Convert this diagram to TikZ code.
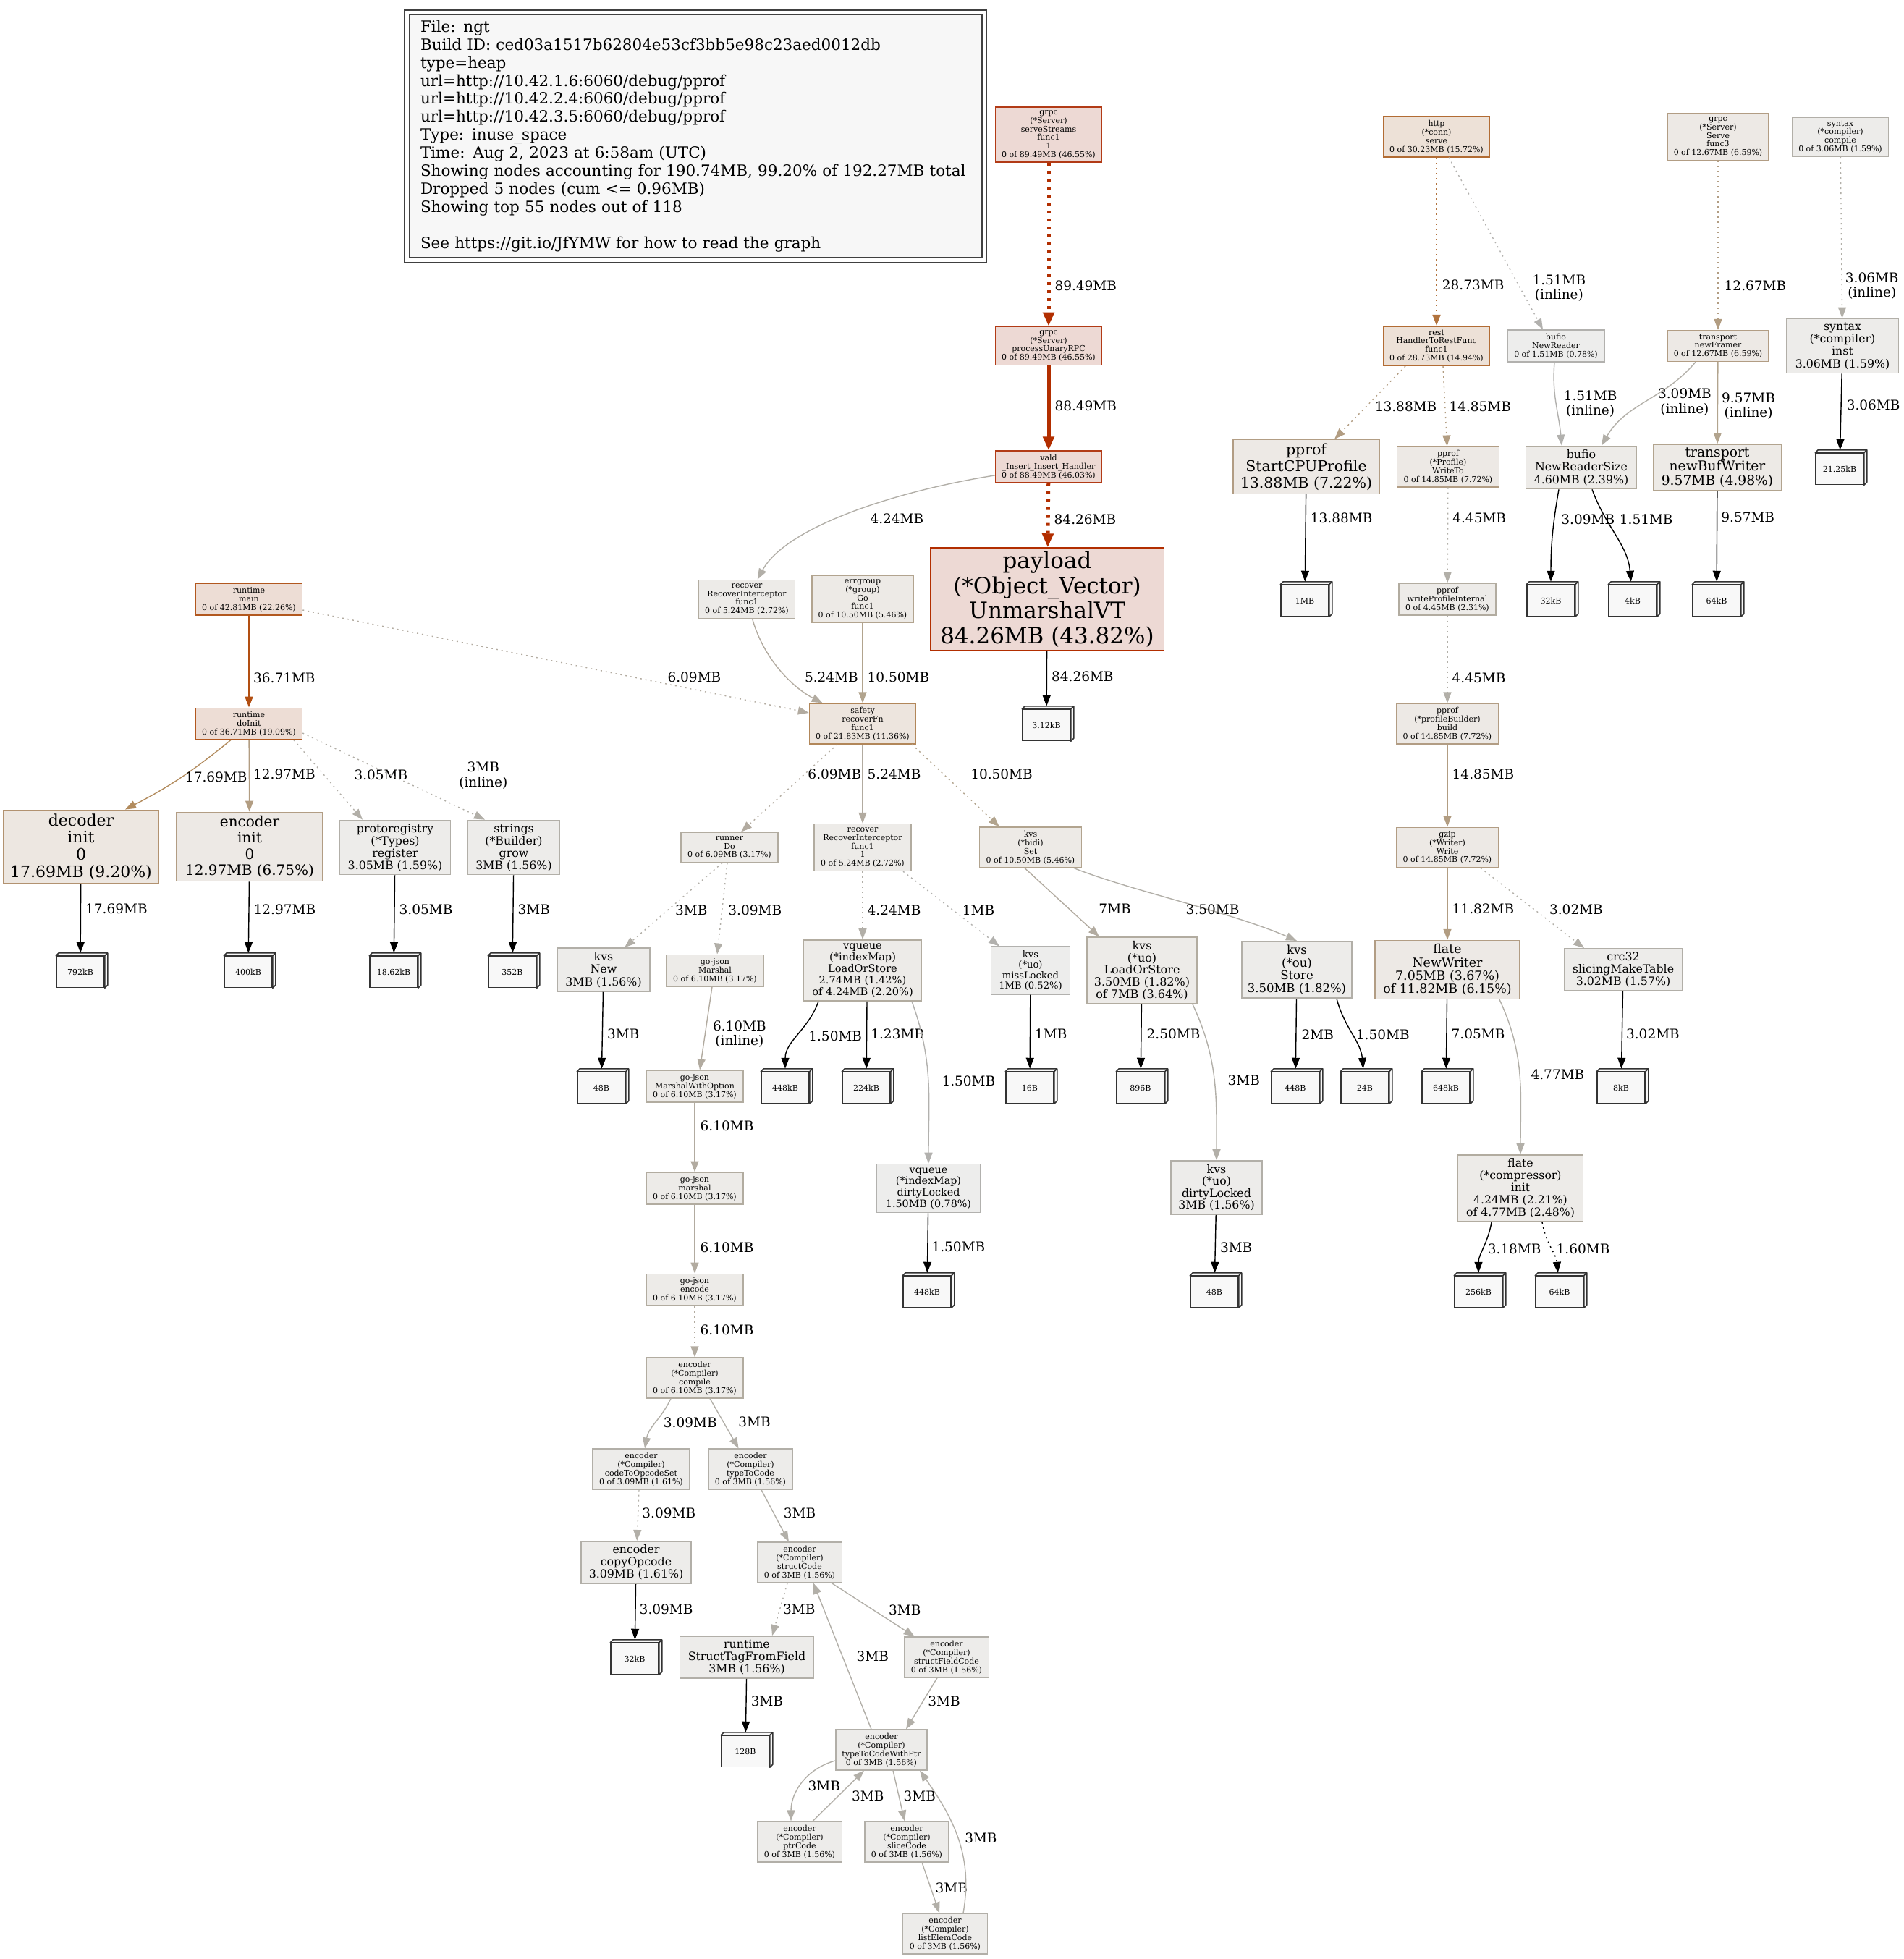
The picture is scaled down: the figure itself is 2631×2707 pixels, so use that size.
\documentclass[tikz,border=0pt]{standalone}
\usepackage{fontspec}
\setmainfont{DejaVu Serif}
\usetikzlibrary{arrows.meta}
\definecolor{bg46}{HTML}{EDD9D4}
\definecolor{fg46}{HTML}{B23B16}
\definecolor{fgpl}{HTML}{B22E00}
\definecolor{bg22}{HTML}{EDDDD5}
\definecolor{fg22}{HTML}{B2581F}
\definecolor{bg15}{HTML}{EDE1D7}
\definecolor{fg15}{HTML}{B26C34}
\definecolor{bg11}{HTML}{EDE5DE}
\definecolor{fg11}{HTML}{B2875A}
\definecolor{bg9}{HTML}{EDE7E1}
\definecolor{fg9}{HTML}{B29270}
\definecolor{bg7}{HTML}{EDE9E5}
\definecolor{fg7}{HTML}{B29D84}
\definecolor{bg5}{HTML}{EDEAE6}
\definecolor{fg5}{HTML}{B2A48F}
\definecolor{bg3}{HTML}{EDEBE8}
\definecolor{fg3}{HTML}{B2ACA0}
\definecolor{bg2}{HTML}{EDECEA}
\definecolor{fg2}{HTML}{B2AFA8}
\definecolor{bg1}{HTML}{EDEDEC}
\definecolor{fg1}{HTML}{B2B1AE}
\definecolor{cred}{HTML}{B22E00}
\definecolor{corg}{HTML}{B24F12}
\definecolor{ct1}{HTML}{B2733D}
\definecolor{ct2}{HTML}{B28B5D}
\definecolor{ct3}{HTML}{B29D82}
\definecolor{ct4}{HTML}{B2A48E}
\definecolor{cg1}{HTML}{B2ABA0}
\definecolor{cg2}{HTML}{B2AFA8}
\definecolor{cg3}{HTML}{B2B1AE}
\definecolor{leafbg}{HTML}{F8F8F8}
\definecolor{legbg}{HTML}{F7F7F7}
% allocation leaf drawn as a 3d box
\newcommand\leafbox[3]{%
  \node[leaf] (#1) at (#2) {#3};
  \filldraw[leafside] (#1.north west) -- ++(4pt,4pt) -| ([shift={(4pt,4pt)}]#1.south east)
    -- (#1.south east) -- (#1.north east) -- cycle (#1.north east) -- ++(4pt,4pt);}

\begin{document}
\begin{tikzpicture}[x=1pt,y=-1pt,
  fn/.style={draw,rectangle,align=center,line width=1.6pt,inner xsep=3pt,inner ysep=5pt,
             font=\fontsize{11}{11.8}\selectfont},
  fsz/.style 2 args={font=\fontsize{#1}{#2}\selectfont},
  n46/.style={fn,fill=bg46,draw=fg46},
  npl/.style={fn,fill=bg46,draw=fgpl},
  n22/.style={fn,fill=bg22,draw=fg22},
  n15/.style={fn,fill=bg15,draw=fg15},
  n11/.style={fn,fill=bg11,draw=fg11},
  n9/.style={fn,fill=bg9,draw=fg9},
  n7/.style={fn,fill=bg7,draw=fg7},
  n5/.style={fn,fill=bg5,draw=fg5},
  n3/.style={fn,fill=bg3,draw=fg3},
  n2/.style={fn,fill=bg2,draw=fg2},
  n1/.style={fn,fill=bg1,draw=fg1},
  leaf/.style={draw=black!80,fill=leafbg,line width=1.5pt,minimum width=66pt,minimum height=43pt,
               inner sep=0pt,font=\fontsize{11}{12}\selectfont},
  leafside/.style={draw=black!80,fill=leafbg,line width=1.5pt,line join=round},
  arr/.style={-{Triangle[length=15pt,width=11pt]},line width=1.4pt},
  arrd/.style={arr,dash pattern=on 2pt off 5pt},
  arrk/.style={arr,black,shorten >=4pt},
  arrr/.style={-{Triangle[length=19pt,width=15pt]},line width=5pt,cred},
  arrrd/.style={arrr,dash pattern=on 4pt off 7pt},
  lbl/.style={font=\fontsize{18.5}{20.5}\selectfont,anchor=west,inner sep=0pt,align=center,text=black}]
\useasboundingbox (0,0) rectangle (2631,2707);

\node[draw=black!75,line width=1.4pt,double=white,double distance=5pt,fill=legbg,
      minimum width=798,minimum height=342,text width=760,align=left,
      font=\fontsize{21.5}{24.9}\selectfont] (legend) at (961,188)
  {File: ngt\\Build ID: ced03a1517b62804e53cf3bb5e98c23aed0012db\\type=heap\\
   url=http://10.42.1.6:6060/debug/pprof\\url=http://10.42.2.4:6060/debug/pprof\\
   url=http://10.42.3.5:6060/debug/pprof\\Type: inuse\_space\\
   Time: Aug 2, 2023 at 6:58am (UTC)\\
   Showing nodes accounting for 190.74MB, 99.20\% of 192.27MB total\\
   Dropped 5 nodes (cum <= 0.96MB)\\Showing top 55 nodes out of 118\\[24.9pt]
   See https://git.io/JfYMW for how to read the graph};

% grpc / vald column
\node[n46,minimum width=147] (ss) at (1449,186) {grpc\\(*Server)\\serveStreams\\func1\\1\\0 of 89.49MB (46.55\%)};
\node[n46,minimum width=147] (pu) at (1449,478) {grpc\\(*Server)\\processUnaryRPC\\0 of 89.49MB (46.55\%)};
\node[n46,minimum width=147] (vi) at (1449,645) {vald\\\_Insert\_Insert\_Handler\\0 of 88.49MB (46.03\%)};
\node[npl,fsz={31}{34.5},minimum width=323] (pl) at (1447,828) {payload\\(*Object\_Vector)\\UnmarshalVT\\84.26MB (43.82\%)};

% http / pprof / transport
\node[n15,minimum width=147] (hs) at (1985,189) {http\\(*conn)\\serve\\0 of 30.23MB (15.72\%)};
\node[n15,minimum width=147] (rh) at (1985,478) {rest\\HandlerToRestFunc\\func1\\0 of 28.73MB (14.94\%)};
\node[n1,minimum width=134] (bnr) at (2150,478) {bufio\\NewReader\\0 of 1.51MB (0.78\%)};
\node[n7,minimum width=140] (gsf) at (2374,189) {grpc\\(*Server)\\Serve\\func3\\0 of 12.67MB (6.59\%)};
\node[n2,minimum width=133] (scp) at (2543,189) {syntax\\(*compiler)\\compile\\0 of 3.06MB (1.59\%)};
\node[n7,minimum width=140] (tnf) at (2374,478) {transport\\newFramer\\0 of 12.67MB (6.59\%)};
\node[n2,fsz={15.8}{17.3},minimum width=155] (sin) at (2546,478) {syntax\\(*compiler)\\inst\\3.06MB (1.59\%)};
\node[n7,fsz={20.5}{23},minimum width=202] (psc) at (1805,645) {pprof\\StartCPUProfile\\13.88MB (7.22\%)};
\node[n7,minimum width=141] (pwt) at (2001,645) {pprof\\(*Profile)\\WriteTo\\0 of 14.85MB (7.72\%)};
\node[n3,fsz={15.8}{17.3},minimum width=153] (bns) at (2185,646) {bufio\\NewReaderSize\\4.60MB (2.39\%)};
\node[n5,fsz={18.7}{19.3},minimum width=177] (tbw) at (2373,646) {transport\\newBufWriter\\9.57MB (4.98\%)};
\node[n3,minimum width=134] (pwi) at (2000,828) {pprof\\writeProfileInternal\\0 of 4.45MB (2.31\%)};
\node[n7,minimum width=141] (ppb) at (2000,1000) {pprof\\(*profileBuilder)\\build\\0 of 14.85MB (7.72\%)};
\node[n7,minimum width=141] (gz) at (2000,1171) {gzip\\(*Writer)\\Write\\0 of 14.85MB (7.72\%)};
\node[n7,fsz={17.4}{18.3},minimum width=200] (fnw) at (2000,1340) {flate\\NewWriter\\7.05MB (3.67\%)\\of 11.82MB (6.15\%)};
\node[n2,fsz={15.8}{17},minimum width=163] (crc) at (2243,1340) {crc32\\slicingMakeTable\\3.02MB (1.57\%)};
\node[n3,fsz={15.7}{17},minimum width=173] (fci) at (2101,1642) {flate\\(*compressor)\\init\\4.24MB (2.21\%)\\of 4.77MB (2.48\%)};

% runtime init side
\node[n22,minimum width=147] (rm) at (344,828) {runtime\\main\\0 of 42.81MB (22.26\%)};
\node[n22,minimum width=147] (rd) at (344,1000) {runtime\\doInit\\0 of 36.71MB (19.09\%)};
\node[n9,fsz={22}{23.7},minimum width=215] (di) at (112,1170) {decoder\\init\\0\\17.69MB (9.20\%)};
\node[n7,fsz={20}{22.3},minimum width=202] (ei) at (345,1170) {encoder\\init\\0\\12.97MB (6.75\%)};
\node[n2,fsz={15.8}{17},minimum width=153] (pr) at (546,1171) {protoregistry\\(*Types)\\register\\3.05MB (1.59\%)};
\node[n2,fsz={15.8}{17},minimum width=127] (sg) at (710,1171) {strings\\(*Builder)\\grow\\3MB (1.56\%)};

% recover / safety / kvs
\node[n3,minimum width=133] (rif) at (1032,828) {recover\\RecoverInterceptor\\func1\\0 of 5.24MB (2.72\%)};
\node[n5,minimum width=140] (eg) at (1192,828) {errgroup\\(*group)\\Go\\func1\\0 of 10.50MB (5.46\%)};
\node[n11,minimum width=147] (sf) at (1192,1000) {safety\\recoverFn\\func1\\0 of 21.83MB (11.36\%)};
\node[n3,minimum width=134] (rdo) at (1008,1171) {runner\\Do\\0 of 6.09MB (3.17\%)};
\node[n3,minimum width=134] (rif1) at (1192,1171) {recover\\RecoverInterceptor\\func1\\1\\0 of 5.24MB (2.72\%)};
\node[n5,minimum width=141] (kbs) at (1424,1171) {kvs\\(*bidi)\\Set\\0 of 10.50MB (5.46\%)};
\node[n2,fsz={15.8}{17.7},minimum width=128] (kn) at (834,1340) {kvs\\New\\3MB (1.56\%)};
\node[n3,minimum width=134] (gjm) at (988,1341) {go-json\\Marshal\\0 of 6.10MB (3.17\%)};
\node[n3,fsz={14.6}{16},minimum width=163] (vls) at (1192,1341) {vqueue\\(*indexMap)\\LoadOrStore\\2.74MB (1.42\%)\\of 4.24MB (2.20\%)};
\node[n1,fsz={13.1}{14.5},minimum width=109] (kml) at (1424,1341) {kvs\\(*uo)\\missLocked\\1MB (0.52\%)};
\node[n3,fsz={16}{16.8},minimum width=152] (kul) at (1578,1341) {kvs\\(*uo)\\LoadOrStore\\3.50MB (1.82\%)\\of 7MB (3.64\%)};
\node[n2,fsz={16.5}{17.8},minimum width=152] (kos) at (1792,1340) {kvs\\(*ou)\\Store\\3.50MB (1.82\%)};
\node[n1,fsz={14.3}{15.7},minimum width=143] (vdl) at (1283,1642) {vqueue\\(*indexMap)\\dirtyLocked\\1.50MB (0.78\%)};
\node[n2,fsz={15.8}{16.5},minimum width=126] (kdl) at (1681,1641) {kvs\\(*uo)\\dirtyLocked\\3MB (1.56\%)};

% go-json / encoder chain
\node[n3,minimum width=134] (gjmo) at (960,1501) {go-json\\MarshalWithOption\\0 of 6.10MB (3.17\%)};
\node[n3,minimum width=134] (gjms) at (960,1642) {go-json\\marshal\\0 of 6.10MB (3.17\%)};
\node[n3,minimum width=134] (gje) at (960,1782) {go-json\\encode\\0 of 6.10MB (3.17\%)};
\node[n3,minimum width=134] (ecp) at (960,1904) {encoder\\(*Compiler)\\compile\\0 of 6.10MB (3.17\%)};
\node[n2,minimum width=134] (ecs) at (886,2030) {encoder\\(*Compiler)\\codeToOpcodeSet\\0 of 3.09MB (1.61\%)};
\node[n2,minimum width=116] (etc) at (1037,2030) {encoder\\(*Compiler)\\typeToCode\\0 of 3MB (1.56\%)};
\node[n2,fsz={15.8}{17},minimum width=152] (eco) at (879,2159) {encoder\\copyOpcode\\3.09MB (1.61\%)};
\node[n2,minimum width=117] (esc) at (1105,2159) {encoder\\(*Compiler)\\structCode\\0 of 3MB (1.56\%)};
\node[n2,fsz={15.8}{17},minimum width=185] (rst) at (1032,2290) {runtime\\StructTagFromField\\3MB (1.56\%)};
\node[n2,minimum width=117] (esf) at (1308,2290) {encoder\\(*Compiler)\\structFieldCode\\0 of 3MB (1.56\%)};
\node[n2,minimum width=126] (etp) at (1218,2418) {encoder\\(*Compiler)\\typeToCodeWithPtr\\0 of 3MB (1.56\%)};
\node[n2,minimum width=117] (epc) at (1105,2545) {encoder\\(*Compiler)\\ptrCode\\0 of 3MB (1.56\%)};
\node[n2,minimum width=116] (esl) at (1253,2545) {encoder\\(*Compiler)\\sliceCode\\0 of 3MB (1.56\%)};
\node[n2,minimum width=117] (ele) at (1306,2672) {encoder\\(*Compiler)\\listElemCode\\0 of 3MB (1.56\%)};

% leaves
\leafbox{lpl}{1446,1002}{3.12kB}
\leafbox{lcpu}{1803,830}{1MB}
\leafbox{lb1}{2143,830}{32kB}
\leafbox{lb2}{2256,830}{4kB}
\leafbox{ltb}{2372,830}{64kB}
\leafbox{lsyn}{2542,648}{21.25kB}
\leafbox{ldi}{111,1343}{792kB}
\leafbox{lei}{343,1343}{400kB}
\leafbox{lpr}{544,1343}{18.62kB}
\leafbox{lsg}{708,1343}{352B}
\leafbox{lkn}{831,1503}{48B}
\leafbox{lv1}{1085,1503}{448kB}
\leafbox{lv2}{1197,1503}{224kB}
\leafbox{lkml}{1423,1503}{16B}
\leafbox{lkul}{1576,1503}{896B}
\leafbox{lk1}{1790,1503}{448B}
\leafbox{lk2}{1886,1503}{24B}
\leafbox{lfnw}{1998,1503}{648kB}
\leafbox{lcrc}{2240,1503}{8kB}
\leafbox{lvdl}{1281,1785}{448kB}
\leafbox{lkdl}{1678,1785}{48B}
\leafbox{lf1}{2043,1785}{256kB}
\leafbox{lf2}{2155,1785}{64kB}
\leafbox{leco}{877,2292}{32kB}
\leafbox{lrst}{1030,2420}{128B}

% edges: grpc / vald
\draw[arrrd] (ss) -- node[lbl,pos=.75,xshift=6]{89.49MB} (pu);
\draw[arrr] (pu) -- node[lbl,pos=.47,xshift=6]{88.49MB} (vi);
\draw[arrrd] (vi) -- node[lbl,pos=.56,xshift=6]{84.26MB} (pl);
\draw[arr,cg2] (vi) .. controls (1230,680) and (1085,730) .. node[lbl,pos=.5,xshift=31,yshift=-6]{4.24MB} (rif);
\draw[arrk] (pl) -- node[lbl,pos=.44,xshift=6]{84.26MB} (lpl);

% edges: runtime / safety
\draw[arr,corg,line width=2.2pt] (rm) -- node[lbl,pos=.68,xshift=5]{36.71MB} (rd);
\draw[arrd,cg1] (rm) -- node[lbl,pos=.72,yshift=9]{6.09MB} (sf);
\draw[arr,cg1] (rif) .. controls (1055,910) and (1095,950) .. node[lbl,pos=.5,xshift=33,yshift=-10]{5.24MB} (sf);
\draw[arr,ct4] (eg) -- node[lbl,pos=.68,xshift=6]{10.50MB} (sf);
\draw[arr,ct2] ([xshift=-25]rd.south) to[bend left=6] node[lbl,pos=.49,xshift=5]{17.69MB} ([xshift=61]di.north);
\draw[arr,ct3] (rd) -- node[lbl,pos=.48,xshift=5]{12.97MB} (ei);
\draw[arrd,cg2] ([xshift=62]rd.south) -- node[lbl,pos=.44,xshift=41]{3.05MB} ([xshift=-45]pr.north);
\draw[arrd,cg2] ([yshift=-13]rd.east) -- node[lbl,pos=.49,xshift=92]{3MB\\(inline)} ([xshift=-40]sg.north);
\draw[arrd,cg1] ([xshift=-35]sf.south) -- node[lbl,pos=.34,xshift=4]{6.09MB} ([xshift=16]rdo.north);
\draw[arr,cg1] (sf) -- node[lbl,pos=.38,xshift=6]{5.24MB} (rif1);
\draw[arrd,ct4] ([xshift=68]sf.south) -- node[lbl,pos=.36,xshift=37]{10.50MB} ([xshift=-43]kbs.north);
\draw[arrk] (di) -- node[lbl,pos=.35,xshift=6]{17.69MB} (ldi);
\draw[arrk] (ei) -- node[lbl,pos=.37,xshift=6]{12.97MB} (lei);
\draw[arrk] (pr) -- node[lbl,pos=.43,xshift=6]{3.05MB} (lpr);
\draw[arrk] (sg) -- node[lbl,pos=.43,xshift=6]{3MB} (lsg);

% edges: runner / recover / kvs
\draw[arrd,cg2] ([xshift=-10]rdo.south) -- node[lbl,pos=.56,xshift=10]{3MB} ([xshift=29]kn.north);
\draw[arrd,cg2] ([xshift=-3]rdo.south) -- node[lbl,pos=.52,xshift=8]{3.09MB} ([xshift=3]gjm.north);
\draw[arrd,cg2] (rif1) -- node[lbl,pos=.57,xshift=6]{4.24MB} (vls);
\draw[arrd,cg3] ([xshift=56]rif1.south) -- node[lbl,pos=.52,xshift=12]{1MB} ([xshift=-43]kml.north);
\draw[arr,cg1] ([xshift=-8]kbs.south) -- node[lbl,pos=.59,xshift=41]{7MB} ([xshift=-59]kul.north);
\draw[arr,cg2] ([xshift=60]kbs.south) .. controls (1560,1230) and (1700,1260) .. node[lbl,pos=.5,xshift=6,yshift=-11]{3.50MB} (kos.north);
\draw[arrk] (kn) -- node[lbl,pos=.53,xshift=6]{3MB} (lkn);
\draw[arr,cg1] ([xshift=-4]gjm.south) -- node[lbl,pos=.57,xshift=10]{6.10MB\\(inline)} ([xshift=7]gjmo.north);
\draw[arrk] ([xshift=-61]vls.south) to[out=-110,in=90] node[lbl,pos=.5,xshift=14]{1.50MB} (lv1);
\draw[arrk] ([xshift=6]vls.south) -- node[lbl,pos=.46,xshift=5]{1.23MB} (lv2);
\draw[arr,cg3] ([xshift=68]vls.south) to[out=-70,in=90] node[lbl,pos=.5,xshift=18]{1.50MB} (vdl);
\draw[arrk] (kml) -- node[lbl,pos=.51,xshift=6]{1MB} (lkml);
\draw[arrk] (kul) -- node[lbl,pos=.44,xshift=7]{2.50MB} (lkul);
\draw[arr,cg2] ([xshift=70]kul.south) to[out=-65,in=90] node[lbl,pos=.5,xshift=18]{3MB} (kdl);
\draw[arrk] (kos) -- node[lbl,pos=.49,xshift=7]{2MB} (lk1);
\draw[arrk] ([xshift=55]kos.south) to[out=-75,in=95] node[lbl,pos=.5,xshift=5]{1.50MB} (lk2);
\draw[arrk] (vdl) -- node[lbl,pos=.54,xshift=5]{1.50MB} (lvdl);
\draw[arrk] (kdl) -- node[lbl,pos=.53,xshift=6]{3MB} (lkdl);

% edges: pprof / gzip / flate
\draw[arrd,ct1,line width=1.8pt] (hs) -- node[lbl,pos=.76,xshift=7]{28.73MB} (rh);
\draw[arrd,cg3] ([xshift=17]hs.south) -- node[lbl,pos=.76,xshift=16]{1.51MB\\(inline)} ([xshift=-18]bnr.north);
\draw[arrd,ct3] (gsf) -- node[lbl,pos=.74,xshift=8]{12.67MB} (tnf);
\draw[arrd,cg2] (scp) -- node[lbl,pos=.8,xshift=4]{3.06MB\\(inline)} (sin);
\draw[arrd,ct3] ([xshift=-43]rh.south) -- node[lbl,pos=.55,xshift=11]{13.88MB} ([xshift=39]psc.north);
\draw[arrd,ct3] ([xshift=9]rh.south) -- node[lbl,pos=.5,xshift=5]{14.85MB} (pwt);
\draw[arr,cg3] ([xshift=-2]bnr.south) to[out=-95,in=95] node[lbl,pos=.5,xshift=10]{1.51MB\\(inline)} ([xshift=-27]bns.north);
\draw[arr,cg2] ([xshift=-31]tnf.south) to[out=-130,in=60] node[lbl,pos=.5,xshift=16]{3.09MB\\(inline)} ([xshift=28]bns.north);
\draw[arr,ct4] (tnf) -- node[lbl,pos=.54,xshift=5]{9.57MB\\(inline)} (tbw);
\draw[arrk] (sin) -- node[lbl,pos=.4,xshift=7]{3.06MB} (lsyn);
\draw[arrk] (psc) -- node[lbl,pos=.26,xshift=6]{13.88MB} (lcpu);
\draw[arrd,cg2] (pwt) -- node[lbl,pos=.32,xshift=6]{4.45MB} (pwi);
\draw[arrk] ([xshift=-31]bns.south) to[out=-100,in=90] node[lbl,pos=.3,xshift=9]{3.09MB} (lb1);
\draw[arrk] ([xshift=15]bns.south) to[out=-70,in=95] node[lbl,pos=.3,xshift=18]{1.51MB} (lb2);
\draw[arrk] (tbw) -- node[lbl,pos=.28,xshift=5]{9.57MB} (ltb);
\draw[arrd,cg2] (pwi) -- node[lbl,pos=.71,xshift=6]{4.45MB} (ppb);
\draw[arr,ct3] (ppb) -- node[lbl,pos=.36,xshift=6]{14.85MB} (gz);
\draw[arr,ct3] (gz) -- node[lbl,pos=.57,xshift=6]{11.82MB} (fnw);
\draw[arrd,cg2] ([xshift=46]gz.south) -- node[lbl,pos=.52,xshift=20]{3.02MB} ([xshift=-54]crc.north);
\draw[arrk] (fnw) -- node[lbl,pos=.48,xshift=6]{7.05MB} (lfnw);
\draw[arr,cg2] ([xshift=72]fnw.south) to[out=-65,in=90] node[lbl,pos=.5,xshift=15]{4.77MB} (fci);
\draw[arrk] (crc) -- node[lbl,pos=.53,xshift=5]{3.02MB} (lcrc);
\draw[arrk] ([xshift=-40]fci.south) to[out=-100,in=90] node[lbl,pos=.5,xshift=5]{3.18MB} (lf1);
\draw[arrk,dash pattern=on 2pt off 5pt] ([xshift=30]fci.south) to[out=-80,in=95] node[lbl,pos=.5,xshift=7]{1.60MB} (lf2);

% edges: go-json / encoder
\draw[arr,cg1] (gjmo) -- node[lbl,pos=.34,xshift=7]{6.10MB} (gjms);
\draw[arr,cg1] (gjms) -- node[lbl,pos=.62,xshift=7]{6.10MB} (gje);
\draw[arrd,cg1] (gje) -- node[lbl,pos=.47,xshift=7]{6.10MB} (ecp);
\draw[arr,cg2] ([xshift=-33]ecp.south) to[out=-115,in=80] node[lbl,pos=.5,xshift=10]{3.09MB} (ecs);
\draw[arr,cg2] ([xshift=21]ecp.south) -- node[lbl,pos=.47,xshift=20]{3MB} (etc);
\draw[arrd,cg2] ([xshift=-3]ecs.south) -- node[lbl,pos=.46,xshift=5]{3.09MB} (eco);
\draw[arr,cg2] (etc) -- node[lbl,pos=.45,xshift=13]{3MB} (esc);
\draw[arrk] (eco) -- node[lbl,pos=.43,xshift=5]{3.09MB} (leco);
\draw[arrd,cg2] ([xshift=-17]esc.south) -- node[lbl,pos=.5,xshift=4]{3MB} ([xshift=35]rst.north);
\draw[arr,cg2] (esc) -- node[lbl,pos=.5,xshift=21]{3MB} (esf);
\draw[arr,cg2] ([xshift=-14]etp.north) -- node[lbl,pos=.5,xshift=19]{3MB} ([xshift=19]esc.south);
\draw[arrk] (rst) -- node[lbl,pos=.4,xshift=6]{3MB} (lrst);
\draw[arr,cg2] ([xshift=-13]esf.south) -- node[lbl,pos=.45,xshift=6]{3MB} ([xshift=34]etp.north);
\draw[arr,cg2] ([yshift=-15]etp.west) to[out=195,in=90] node[lbl,pos=.55,xshift=10]{3MB} ([xshift=-12]epc.north);
\draw[arr,cg2] ([xshift=18]epc.north) -- node[lbl,pos=.5,xshift=18]{3MB} ([xshift=-24]etp.south);
\draw[arr,cg2] ([xshift=16]etp.south) -- node[lbl,pos=.5,xshift=6]{3MB} ([xshift=-3]esl.north);
\draw[arr,cg2] ([xshift=21]esl.south) -- node[lbl,pos=.5,xshift=6]{3MB} ([xshift=-8]ele.north);
\draw[arr,cg2] ([xshift=25]ele.north) to[out=80,in=-55] node[lbl,pos=.5,xshift=9]{3MB} ([xshift=53]etp.south);
\end{tikzpicture}
\end{document}
